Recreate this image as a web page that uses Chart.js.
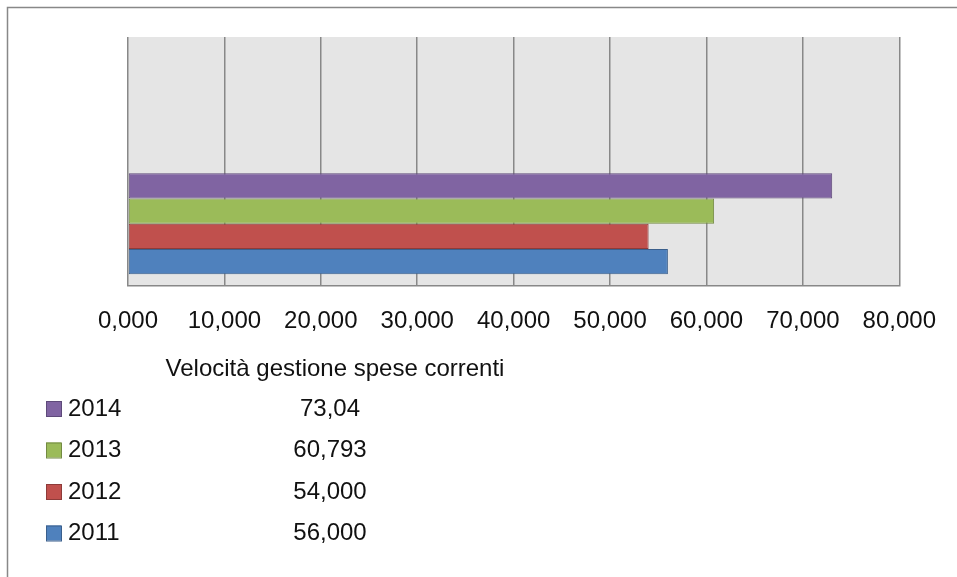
<!DOCTYPE html>
<html>
<head>
<meta charset="utf-8">
<title>Velocità gestione spese correnti</title>
<script src="https://cdn.jsdelivr.net/npm/chart.js@4.4.1/dist/chart.umd.min.js"></script>
<style>
  html, body { margin: 0; padding: 0; background: #fff; }
  canvas { display: block; }
</style>
</head>
<body>
<canvas id="myChart" width="957" height="577"></canvas>
<script>
  // data
  var categories = ["", "Velocità gestione spese correnti"];
  var years = ["2014", "2013", "2012", "2011"];
  var values = [73.04, 60.793, 54.0, 56.0];
  var valueLabels = ["73,04", "60,793", "54,000", "56,000"];
  var fillColors = ["#8064A2", "#9BBB59", "#C0504D", "#4F81BD"];
  var lineColors = ["#5E4A7A", "#738A42", "#8E3B39", "#3A5F8C"];
  var xTicks = [0, 10, 20, 30, 40, 50, 60, 70, 80];

  var FONT = '"Liberation Sans", Arial, sans-serif';

  // gray plot background + outer frame
  var plotBg = {
    id: "plotBg",
    beforeDraw: function (chart) {
      var ctx = chart.ctx, a = chart.chartArea;
      ctx.save();
      ctx.fillStyle = "#e5e5e5";
      ctx.fillRect(a.left, a.top, a.right - a.left, a.bottom - a.top);
      ctx.strokeStyle = "#888";
      ctx.lineWidth = 1.5;
      ctx.strokeRect(7.5, 7.5, 1000, 1000);
      ctx.restore();
    }
  };

  // the data table under the axis
  var dataTable = {
    id: "dataTable",
    afterDraw: function (chart) {
      var ctx = chart.ctx;
      ctx.save();
      ctx.font = "24px " + FONT;
      ctx.fillStyle = "#111";
      ctx.textBaseline = "middle";
      ctx.textAlign = "center";
      ctx.fillText(categories[1], 335, 369);
      for (var i = 0; i < years.length; i++) {
        var y = 409 + i * 41.5;
        ctx.fillStyle = fillColors[i];
        ctx.strokeStyle = lineColors[i];
        ctx.lineWidth = 1;
        ctx.fillRect(46, y - 8, 15, 15);
        ctx.strokeRect(46.5, y - 7.5, 15, 15);
        ctx.fillStyle = "#111";
        ctx.textAlign = "left";
        ctx.fillText(years[i], 68, y);
        ctx.textAlign = "center";
        ctx.fillText(valueLabels[i], 330, y);
      }
      ctx.restore();
    }
  };

  var datasets = years.map(function (yr, i) {
    return {
      label: yr,
      data: [null, values[i]],
      backgroundColor: fillColors[i],
      borderColor: lineColors[i],
      borderWidth: 1,
      borderSkipped: false,
      categoryPercentage: 0.81,
      barPercentage: 1
    };
  });

  var ctx = document.getElementById("myChart");
  var myChart = new Chart(ctx, {
    type: "bar",
    data: { labels: categories, datasets: datasets },
    options: {
      indexAxis: "y",
      responsive: false,
      animation: false,
      layout: { padding: { left: 128, right: 56, top: 37, bottom: 0 } },
      plugins: {
        legend: { display: false },
        tooltip: { enabled: false }
      },
      scales: {
        x: {
          min: xTicks[0],
          max: xTicks[xTicks.length - 1],
          afterBuildTicks: function (scale) {
            scale.ticks = xTicks.map(function (v) { return { value: v }; });
          },
          afterFit: function (scale) { scale.height = 291; },
          grid: { color: "#888", lineWidth: 1.5, drawTicks: false },
          border: { display: true, color: "#888", width: 1.5 },
          ticks: {
            padding: 21,
            color: "#111",
            font: { family: FONT, size: 24 },
            maxRotation: 0,
            callback: function (v) { return v.toFixed(3).replace(".", ","); }
          }
        },
        y: { display: false }
      }
    },
    plugins: [plotBg, dataTable]
  });
</script>
</body>
</html>
